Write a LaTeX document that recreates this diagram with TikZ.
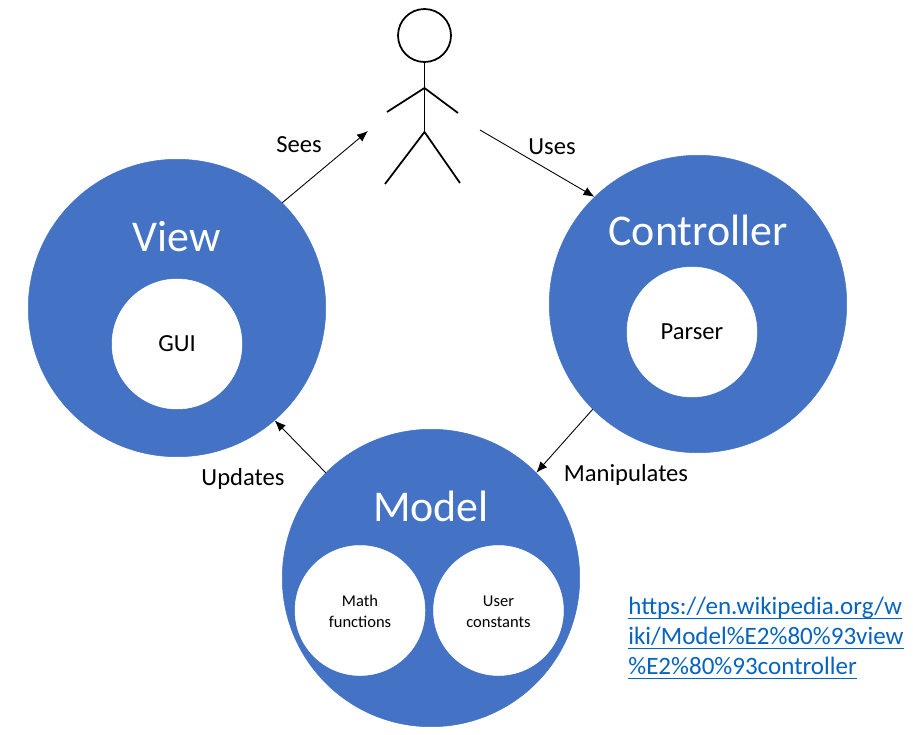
\documentclass[tikz,border=0pt]{standalone}
\usepackage{fontspec}
\setmainfont{Carlito}
\usepackage{tikz}
\usetikzlibrary{arrows.meta}
\usetikzlibrary{positioning}
\definecolor{mvcblue}{HTML}{4472C4}
\definecolor{linkblue}{HTML}{0563C1}
\newcommand{\linkline}[1]{\setbox0\hbox{#1}\rlap{\rule[-2.9pt]{\wd0}{0.9pt}}\box0}
\newcommand{\topline}{\rule{0pt}{10.6pt}}
\tikzset{
  part/.style={circle,draw=mvcblue,fill=mvcblue,line width=0.3pt,inner sep=0pt,minimum size=5.95cm},
  inner/.style={circle,draw=white,fill=white,line width=0.3pt,inner sep=0pt,minimum size=2.6cm,align=center},
  title/.style={text=white,inner sep=0pt,font=\fontsize{25}{30}\selectfont},
  caption/.style={inner sep=0pt,font=\fontsize{14}{17}\selectfont},
  small/.style={font=\fontsize{9.4}{12}\selectfont},
  flow/.style={draw=black,-{Latex[length=0.22cm,width=0.18cm]},line width=0.5pt},
  stick/.style={draw=black,line width=1pt}
}
\begin{document}
\begin{tikzpicture}[x=0.02cm,y=-0.02cm]
\useasboundingbox (0,0) rectangle (913,734);
\node[part](view) at (177,308){};
\node[part](controller) at (698,304){};
\node[part](model) at (431,578){};
\node[title,above of =view,node distance=1.42cm](viewtitle){View};
\node[title,above of =controller,node distance=1.48cm](controllertitle){Controller};
\node[title,above of =model,node distance=1.44cm](modeltitle){Model};
\node[inner,caption,below of =view,node distance=0.72cm](gui){GUI};
\node[inner,caption,below of =controller,xshift=-0.12cm,node distance=0.56cm](parser){Parser};
\node[inner,small,below of =model,xshift=-1.42cm,node distance=0.65cm](math){\topline Math\\\strut functions};
\node[inner,small,right of =math,node distance=2.77cm](user){\topline User\\\strut constants};
% stick figure
\node[circle,stick,fill=white,inner sep=0pt,minimum size=1.06cm](head) at (424.5,35.5){};
\coordinate (shoulder) at (424.5,88);
\coordinate (hip) at (424.5,132);
\coordinate (lefthand) at (387,112);
\coordinate (righthand) at (458,113);
\coordinate (leftfoot) at (385,184);
\coordinate (rightfoot) at (460,183);
\draw[stick] (head.south) -- (shoulder) -- (hip);
\draw[stick] (lefthand) -- (shoulder) -- (righthand);
\draw[stick] (leftfoot) -- (hip) -- (rightfoot);
% arrows
\coordinate (seesend) at (368,131);
\coordinate (usesstart) at (480,130);
\draw[flow] (view.45) -- (seesend);
\draw[flow] (usesstart) -- (controller.134);
\draw[flow] (controller.225) -- (model.45);
\draw[flow] (model.135) -- (view.-49);
\node[caption](sees) at (299,145){Sees};
\node[caption](uses) at (552,147){Uses};
\node[caption](updates) at (243,479){Updates};
\node[caption](manipulates) at (626,475){Manipulates};
\node[caption,anchor=west,align=left,text=linkblue,font=\fontsize{14.25}{17}\selectfont](link) at (628,638){\linkline{https://en.wikipedia.org/w}\\\linkline{iki/Model\%E2\%80\%93view}\\\linkline{\%E2\%80\%93controller}};
\end{tikzpicture}
\end{document}
